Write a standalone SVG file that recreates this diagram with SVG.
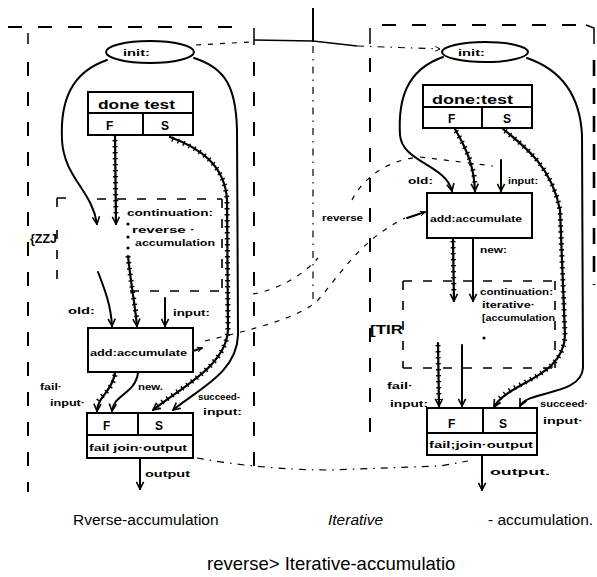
<svg xmlns="http://www.w3.org/2000/svg" width="597" height="577" viewBox="0 0 597 577">
<style>
.bg{fill:#fff}
.ln{fill:none;stroke:#000;stroke-width:2;stroke-linecap:round;stroke-linejoin:round}
.hat{fill:none;stroke:#000;stroke-width:2.2;stroke-linecap:round}
.tick{fill:none;stroke:#000;stroke-width:5;stroke-dasharray:1.4 4.6}
.box{fill:none;stroke:#000;stroke-width:2}
.frame{fill:none;stroke:#000;stroke-width:2;stroke-dasharray:14 16}
.cont{fill:none;stroke:#000;stroke-width:1.6;stroke-dasharray:9 11}
.thin{fill:none;stroke:#000;stroke-width:1.2;stroke-dasharray:5 7}
.dd{fill:none;stroke:#000;stroke-width:1.2;stroke-dasharray:7 6 1.5 6}
.solidthin{fill:none;stroke:#000;stroke-width:1.5}
.hw{font-family:"Liberation Sans",Arial,sans-serif;font-weight:bold;font-size:9px;fill:#000}
.big{font-family:"Liberation Sans",Arial,sans-serif;font-weight:bold;font-size:12px;fill:#000}
.cap{font-family:"Liberation Sans",Arial,sans-serif;font-size:15.5px;fill:#000}
</style>
<defs>
<marker id="ar" viewBox="0 0 10 10" refX="9" refY="5" markerWidth="9" markerHeight="9" orient="auto" markerUnits="userSpaceOnUse">
<path d="M1,1 L9,5 L1,9" fill="none" stroke="#000" stroke-width="1.8"/>
</marker>
<marker id="sm" viewBox="0 0 10 10" refX="9" refY="5" markerWidth="6" markerHeight="6" orient="auto" markerUnits="userSpaceOnUse">
<path d="M1,1 L9,5 L1,9" fill="none" stroke="#000" stroke-width="1.6"/>
</marker>
</defs>
<rect class="bg" x="0" y="0" width="597" height="577"/>

<g id="frames">
<path class="frame" d="M8,27 H240"/>
<path class="solidthin" d="M28,33 V44"/>
<path class="frame" d="M28,62 V492"/>
<path class="solidthin" d="M254,28 V45"/>
<path class="frame" d="M254,62 V470"/>
<path class="frame" d="M382,25 H585"/>
<path class="solidthin" d="M586,25 L594,28 V44"/>
<path class="frame" style="stroke-width:2.6;stroke-dasharray:16 12" d="M594,60 V285"/>
<path class="solidthin" d="M370,28 V44"/>
<path class="frame" d="M370,58 V435"/>
<path class="solidthin" style="stroke-width:2" d="M313,8 V42"/>
<path class="dd" d="M313,46 V305"/>
</g>

<g id="left-init">
<ellipse class="box" cx="150" cy="52" rx="44" ry="11"/>
<text class="hw" x="123" y="56" textLength="27" lengthAdjust="spacingAndGlyphs">init:</text>
</g>
<g id="left-done-test">
<rect class="box" x="88" y="92" width="105" height="43"/>
<path class="box" d="M88,113 H193 M143,113 V135"/>
<text class="big" x="98" y="109" textLength="77" lengthAdjust="spacingAndGlyphs">done test</text>
<text class="big" x="106" y="130">F</text>
<text class="big" x="161" y="130">S</text>
</g>
<g id="left-continuation">
<path class="cont" d="M57,198 H70 M97,199 H222 M57,198 V214 M57,230 V290 M222,199 V292 M130,291 H228"/>
<text class="hw" x="127" y="216" textLength="86" lengthAdjust="spacingAndGlyphs">continuation:</text>
<text class="hw" x="132" y="233" textLength="63" lengthAdjust="spacingAndGlyphs">reverse ·</text>
<text class="hw" x="135" y="246" textLength="80" lengthAdjust="spacingAndGlyphs">accumulation</text>
<circle cx="128" cy="224" r="1.6"/>
<circle cx="128" cy="237" r="1.6"/>
<circle cx="128" cy="248" r="1.6"/>
<text class="big" x="30" y="243" textLength="27" lengthAdjust="spacingAndGlyphs">{ZZJ</text>
</g>
<g id="left-add">
<rect class="box" x="88" y="328" width="105" height="44"/>
<text class="hw" x="90" y="356" textLength="97" lengthAdjust="spacingAndGlyphs">add:accumulate</text>
</g>
<g id="left-out">
<rect class="box" x="87" y="413" width="106" height="45"/>
<path class="box" d="M87,435 H193 M138,413 V435"/>
<text class="big" x="103" y="430">F</text>
<text class="big" x="155" y="430">S</text>
<text class="hw" x="89" y="451" textLength="98" lengthAdjust="spacingAndGlyphs">fail join·output</text>
</g>

<g id="right-init">
<ellipse class="box" cx="485" cy="52" rx="43" ry="10"/>
<text class="hw" x="458" y="56" textLength="27" lengthAdjust="spacingAndGlyphs">init:</text>
</g>
<g id="right-done-test">
<rect class="box" x="423" y="85" width="109" height="43"/>
<path class="box" d="M423,107 H532 M482,107 V128"/>
<text class="big" x="432" y="104" textLength="81" lengthAdjust="spacingAndGlyphs">done:test</text>
<text class="big" x="448" y="123">F</text>
<text class="big" x="503" y="123">S</text>
</g>
<g id="right-add">
<rect class="box" x="427" y="193" width="105" height="45"/>
<text class="hw" x="430" y="222" textLength="92" lengthAdjust="spacingAndGlyphs">add:accumulate</text>
</g>
<g id="right-continuation">
<path class="cont" d="M403,281 H555 M403,281 V368 M403,368 H555 M555,281 V368"/>
<text class="hw" x="480" y="295" textLength="73" lengthAdjust="spacingAndGlyphs">continuation:</text>
<text class="hw" x="482" y="308" textLength="53" lengthAdjust="spacingAndGlyphs">iterative·</text>
<text class="hw" x="482" y="321" textLength="73" lengthAdjust="spacingAndGlyphs">[accumulation</text>
<circle cx="484" cy="338" r="1.6"/>
<text class="big" x="370" y="334" textLength="33" lengthAdjust="spacingAndGlyphs">[TIR</text>
</g>
<g id="right-out">
<rect class="box" x="427" y="408" width="110" height="47"/>
<path class="box" d="M427,433 H537 M483,408 V433"/>
<text class="big" x="448" y="428">F</text>
<text class="big" x="499" y="428">S</text>
<text class="hw" x="429" y="448" textLength="104" lengthAdjust="spacingAndGlyphs">fail;join·output</text>
</g>

<g id="connectors">
<path class="thin" d="M196,45 L250,42"/>
<path class="solidthin" d="M254,40 L313,41 L357,46"/>
<path class="dd" d="M357,46 L440,49" marker-end="url(#sm)"/>
<path class="ln" d="M107,60 C72,72 60,100 62,140 C64,178 92,190 97,224" marker-end="url(#ar)"/>
<path class="hat" d="M115,136 L116,224" marker-end="url(#ar)"/>
<path class="tick" d="M115,140 L116,218"/>
<path class="hat" d="M170,137 C200,148 225,165 227,200 L228,330 C226,365 185,385 153,410" marker-end="url(#ar)"/>
<path class="tick" d="M172,139 C200,148 225,165 227,200 L228,330 C226,365 185,385 157,406"/>
<path class="ln" d="M194,58 C226,68 236,88 237,130 L238,335 C237,372 200,388 173,410" marker-end="url(#ar)"/>
<path class="hat" d="M128,256 C131,285 135,305 137,326" marker-end="url(#ar)"/>
<path class="tick" d="M128,256 C131,285 135,305 137,320"/>
<path class="ln" d="M98,272 C105,290 111,306 112,326" marker-end="url(#ar)"/>
<path class="ln" d="M165,298 L165,326" marker-end="url(#ar)"/>
<path class="hat" d="M115,373 C112,392 98,396 97,411" marker-end="url(#ar)"/>
<path class="tick" d="M115,375 C112,392 98,396 97,405"/>
<path class="ln" d="M138,373 C135,394 114,394 112,411" marker-end="url(#ar)"/>
<path class="ln" d="M140,458 L140,489" marker-end="url(#ar)"/>
<path class="ln" d="M193,351 L202,348" marker-end="url(#sm)"/>
<path class="ln" d="M443,57 C406,70 398,100 400,135 C402,162 446,165 452,191" marker-end="url(#ar)"/>
<path class="hat" d="M455,129 C467,150 474,166 475,191" marker-end="url(#ar)"/>
<path class="tick" d="M456,131 C467,150 474,166 475,185"/>
<path class="ln" d="M501,160 L501,191" marker-end="url(#ar)"/>
<path class="hat" d="M503,129 C527,148 552,168 560,210 L565,335 C564,378 508,382 494,407" marker-end="url(#ar)"/>
<path class="tick" d="M505,131 C527,148 552,168 560,210 L565,335 C564,378 508,382 497,402"/>
<path class="ln" d="M527,58 C562,70 580,96 582,135 L583,368 C581,396 528,390 520,406" marker-end="url(#ar)"/>
<path class="hat" d="M453,239 L454,301" marker-end="url(#ar)"/>
<path class="tick" d="M453,241 L454,295"/>
<path class="ln" d="M473,239 L473,301" marker-end="url(#ar)"/>
<path class="hat" d="M438,343 L439,406" marker-end="url(#ar)"/>
<path class="tick" d="M438,345 L439,400"/>
<path class="ln" d="M462,345 L462,406" marker-end="url(#ar)"/>
<path class="ln" d="M482,455 L482,490" marker-end="url(#ar)"/>
<path class="ln" d="M407,218 L425,212" marker-end="url(#sm)"/>
<path class="thin" d="M253,294 C280,289 303,275 318,258 M352,200 C362,180 385,160 420,157 L493,166"/>
<path class="thin" d="M205,341 C250,330 300,318 318,300 C340,275 360,240 405,218"/>
<path class="dd" d="M197,458 C240,466 290,470 330,470 L440,466 L468,461"/>
</g>

<g id="labels">
<text class="hw" x="68" y="314" textLength="27" lengthAdjust="spacingAndGlyphs">old:</text>
<text class="hw" x="173" y="316" textLength="37" lengthAdjust="spacingAndGlyphs">input:</text>
<text class="hw" x="40" y="390" textLength="22" lengthAdjust="spacingAndGlyphs">fail·</text>
<text class="hw" x="50" y="406" textLength="35" lengthAdjust="spacingAndGlyphs">input·</text>
<text class="hw" x="138" y="390" textLength="25" lengthAdjust="spacingAndGlyphs">new.</text>
<text class="hw" x="198" y="400" textLength="42" lengthAdjust="spacingAndGlyphs">succeed-</text>
<text class="hw" x="203" y="415" textLength="39" lengthAdjust="spacingAndGlyphs">input:</text>
<text class="hw" x="145" y="477" textLength="45" lengthAdjust="spacingAndGlyphs">output</text>
<text class="hw" x="408" y="184" textLength="25" lengthAdjust="spacingAndGlyphs">old:</text>
<text class="hw" x="508" y="184" textLength="30" lengthAdjust="spacingAndGlyphs">input:</text>
<text class="hw" x="322" y="221" textLength="41" lengthAdjust="spacingAndGlyphs">reverse</text>
<text class="hw" x="480" y="253" textLength="27" lengthAdjust="spacingAndGlyphs">new:</text>
<text class="hw" x="387" y="389" textLength="26" lengthAdjust="spacingAndGlyphs">fail·</text>
<text class="hw" x="390" y="407" textLength="38" lengthAdjust="spacingAndGlyphs">input:</text>
<text class="hw" x="540" y="407" textLength="48" lengthAdjust="spacingAndGlyphs">succeed·</text>
<text class="hw" x="543" y="424" textLength="40" lengthAdjust="spacingAndGlyphs">input·</text>
<text class="hw" x="490" y="475" textLength="60" lengthAdjust="spacingAndGlyphs">output.</text>
</g>

<g id="captions">
<text class="cap" x="73" y="525">Rverse-accumulation</text>
<text class="cap" x="328" y="525" font-style="italic">Iterative</text>
<text class="cap" x="488" y="525">- accumulation.</text>
<text class="cap" x="207" y="570" style="font-size:18.5px">reverse&gt; Iterative-accumulatio</text>
</g>
</svg>
